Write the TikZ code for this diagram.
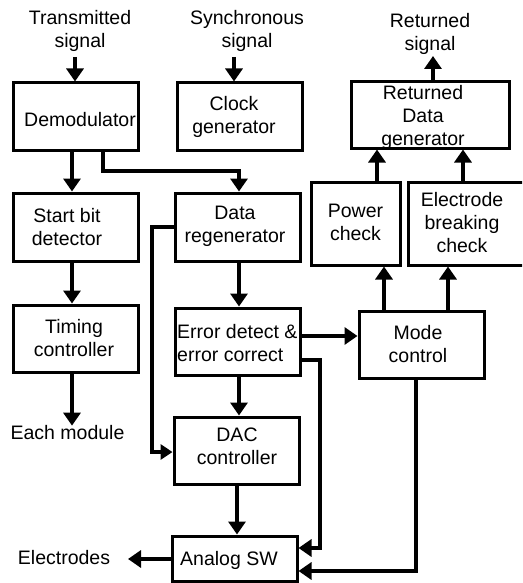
\documentclass[tikz,border=0pt]{standalone}
\usepackage{fontspec}
\setmainfont{Liberation Sans}
\usetikzlibrary{arrows.meta}
\begin{document}
\begin{tikzpicture}[x=1pt,y=-1pt,
  box/.style={draw,line width=3pt,inner sep=0pt},
  lbl/.style={align=center,inner sep=0pt,font=\fontsize{19.5}{23}\selectfont},
  arr/.style={line width=4pt,-{Triangle[width=17pt,length=13pt]}},
  ln/.style={line width=3.5pt}]
\useasboundingbox (0,0) rectangle (522,583);
\clip (0,0) rectangle (522,583);
% boxes
\node[box,minimum width=125pt,minimum height=67pt] (demod) at (75.5,116.5) {};
\node[box,minimum width=125pt,minimum height=67pt] (clock) at (239.5,116.5) {};
\node[box,minimum width=158pt,minimum height=66pt] (rdg) at (430,115) {};
\node[box,minimum width=125pt,minimum height=68pt] (start) at (75.5,227) {};
\node[box,minimum width=125pt,minimum height=68pt] (datareg) at (237.5,227) {};
\node[box,minimum width=89pt,minimum height=83pt] (power) at (355.5,223.5) {};
\node[box,minimum width=127pt,minimum height=83pt] (ebc) at (471.5,223.5) {};
\node[box,minimum width=125pt,minimum height=67pt] (timing) at (75.5,338.5) {};
\node[box,minimum width=125pt,minimum height=67pt] (err) at (237.5,341.5) {};
\node[box,minimum width=125pt,minimum height=67pt] (mode) at (421.5,344.5) {};
\node[box,minimum width=125pt,minimum height=67pt] (dac) at (236.5,450.5) {};
\node[box,minimum width=125pt,minimum height=45pt] (asw) at (234.5,558.5) {};
% texts
\node[lbl] (tx) at (80,31) {Transmitted\\signal};
\node[lbl] (sy) at (247,31) {Synchronous\\signal};
\node[lbl] (rs) at (430,34) {Returned\\signal};
\node[lbl] (tdemod) at (80,120) {Demodulator};
\node[lbl] (tclock) at (234,116.5) {Clock\\generator};
\node[lbl] (trdg) at (423,117) {Returned\\Data\\generator};
\node[lbl] (tstart) at (67,227.5) {Start bit\\detector};
\node[lbl] (ttiming) at (74,338.5) {Timing\\controller};
\node[lbl] (tdatareg) at (235,226.5) {Data\\regenerator};
\node[lbl,align=left,anchor=west] (terr) at (177,343) {Error detect \&\\error correct};
\node[lbl] (tpower) at (355.5,222.5) {Power\\check};
\node[lbl] (tebc) at (462,222.5) {Electrode\\breaking\\check};
\node[lbl] (tmode) at (418,344.5) {Mode\\control};
\node[lbl] (tdac) at (237,446.5) {DAC\\controller};
\node[lbl] (tasw) at (229,560) {Analog SW};
\node[lbl] (each) at (67.5,433) {Each module};
\node[lbl] (elec) at (64,558) {Electrodes};
% connectors
\draw[arr] (75,57) -- (demod.north -| 75,0);
\draw[arr] (234,57) -- (clock.north -| 234,0);
\draw[arr] (rdg.north -| 433,0) -- (433,56);
\draw[arr] (demod.south -| 72,0) -- (start.north -| 72,0);
\draw[arr] (demod.south -| 103,0) -- (103,171) -- (239,171) -- (datareg.north -| 239,0);
\draw[arr] (start.south -| 72,0) -- (timing.north -| 72,0);
\draw[arr] (timing.south -| 72,0) -- (each.north -| 72,0);
\draw[arr] (datareg.south -| 239,0) -- (err.north -| 239,0);
\draw[ln,-{Triangle[width=15pt,length=12pt]}] (datareg.west) -- (152,227) -- (152,452) -- (dac.west |- 0,452);
\draw[arr] (err.south -| 239,0) -- (dac.north -| 239,0);
\draw[arr] (err.east |- 0,336) -- (mode.west |- 0,336);
\draw[arr] (err.east |- 0,360) -- (320,360) -- (320,548) -- (asw.east |- 0,548);
\draw[arr] (mode.south -| 416,0) -- (416,571) -- (asw.east |- 0,571);
\draw[arr] (dac.south -| 237,0) -- (asw.north -| 237,0);
\draw[arr] (asw.west |- 0,559) -- (128,559);
\draw[arr] (mode.north -| 384,0) -- (power.south -| 384,0);
\draw[arr] (mode.north -| 448,0) -- (ebc.south -| 448,0);
\draw[arr] (power.north -| 377,0) -- (rdg.south -| 377,0);
\draw[arr] (ebc.north -| 463,0) -- (rdg.south -| 463,0);
\end{tikzpicture}
\end{document}
